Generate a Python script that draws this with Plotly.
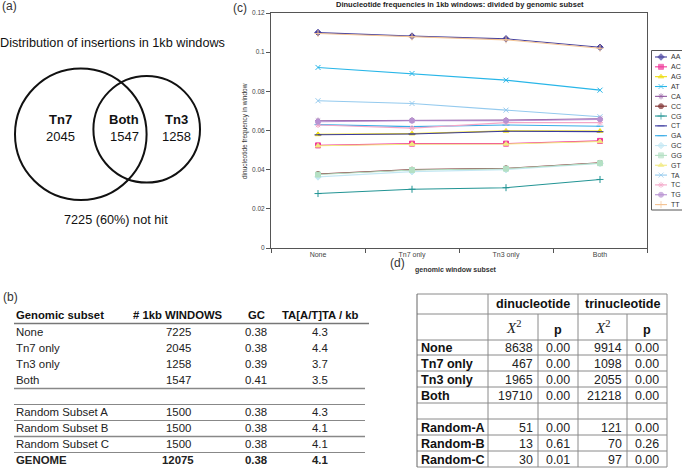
import plotly.graph_objects as go

W, H = 682, 468

# ---------------- data ----------------
subsets = ["None", "Tn7 only", "Tn3 only", "Both"]
dinucs = ["AA", "AC", "AG", "AT", "CA", "CC", "CG", "CT",
          "GA", "GC", "GG", "GT", "TA", "TC", "TG", "TT"]

AA = [0.1100, 0.1082, 0.1068, 0.1025]
AC = [0.0524, 0.0533, 0.0533, 0.0547]
AG = [0.0580, 0.0584, 0.0598, 0.0597]
AT = [0.0922, 0.0891, 0.0857, 0.0806]
CA = [0.0650, 0.0653, 0.0653, 0.0660]
CC = [0.0378, 0.0400, 0.0407, 0.0435]
CG = [0.0278, 0.0300, 0.0308, 0.0350]
CT = [0.0578, 0.0582, 0.0596, 0.0594]
GA = [0.0630, 0.0620, 0.0628, 0.0622]
GC = [0.0363, 0.0390, 0.0400, 0.0432]
GG = [0.0375, 0.0398, 0.0405, 0.0433]
GT = [0.0522, 0.0530, 0.0531, 0.0544]
TA = [0.0752, 0.0738, 0.0704, 0.0670]
TC = [0.0628, 0.0612, 0.0640, 0.0640]
TG = [0.0645, 0.0650, 0.0650, 0.0657]
TT = [0.1095, 0.1078, 0.1063, 0.1020]
freqs = dict(AA=AA, AC=AC, AG=AG, AT=AT, CA=CA, CC=CC, CG=CG, CT=CT,
             GA=GA, GC=GC, GG=GG, GT=GT, TA=TA, TC=TC, TG=TG, TT=TT)

venn_labels = ["Tn7", "Both", "Tn3"]
venn_counts = ["2045", "1547", "1258"]
venn_title = "Distribution of insertions in 1kb windows"
venn_note = "7225 (60%) not hit"

b_header = ["Genomic subset", "# 1kb WINDOWS", "GC", "TA[A/T]TA / kb"]
b_subset = ["None", "Tn7 only", "Tn3 only", "Both", "",
            "Random Subset A", "Random Subset B", "Random Subset C", "GENOME"]
b_windows = ["7225", "2045", "1258", "1547", "", "1500", "1500", "1500", "12075"]
b_gc = ["0.38", "0.38", "0.39", "0.41", "", "0.38", "0.38", "0.38", "0.38"]
b_ta = ["4.3", "4.4", "3.7", "3.5", "", "4.3", "4.1", "4.1", "4.1"]

d_groups = ["dinucleotide", "trinucleotide"]
d_rows = ["None", "Tn7 only", "Tn3 only", "Both", "",
          "Random-A", "Random-B", "Random-C"]
d_di_chi = ["8638", "467", "1965", "19710", "", "51", "13", "30"]
d_di_p = ["0.00", "0.00", "0.00", "0.00", "", "0.00", "0.61", "0.01"]
d_tri_chi = ["9914", "1098", "2055", "21218", "", "121", "70", "97"]
d_tri_p = ["0.00", "0.00", "0.00", "0.00", "", "0.00", "0.26", "0.00"]

# ---------------- styles ----------------
colors = dict(AA="#45409E", AC="#F0389A", AG="#EEDD10", AT="#28B6E8",
              CA="#9058A0", CC="#803030", CG="#229494", CT="#3A3AA0",
              GA="#38ACE8", GC="#C4E8F4", GG="#B4E0C4", GT="#F2EA80",
              TA="#94CAEE", TC="#F4A6C8", TG="#B892D2", TT="#F4C494")
symbols = dict(AA="diamond", AC="square", AG="triangle-up", AT="x-thin",
               CA="asterisk", CC="circle", CG="cross-thin", CT="line-ew",
               GA="line-ew", GC="diamond", GG="square", GT="triangle-up",
               TA="x-thin", TC="asterisk", TG="circle", TT="cross-thin")

SANS = "Liberation Sans, Arial, sans-serif"
TXT = "#111111"


def px(x):
    return x / W


def py(y):
    return 1 - y / H


fig = go.Figure()
annotations = []
shapes = []


def text(x, y, s, size=12, bold=False, anchor="center", color=TXT, family=SANS, **kw):
    annotations.append(dict(
        x=px(x), y=py(y), xref="paper", yref="paper", showarrow=False,
        text=f"<b>{s}</b>" if bold else s, xanchor=anchor, yanchor="middle",
        font=dict(size=size, color=color, family=family), borderpad=0, **kw))


def hline(x0, x1, y, color="#808080", width=1):
    shapes.append(dict(type="line", xref="paper", yref="paper",
                       x0=px(x0), x1=px(x1), y0=py(y), y1=py(y),
                       line=dict(color=color, width=width)))


def vline(x, y0, y1, color="#808080", width=1):
    shapes.append(dict(type="line", xref="paper", yref="paper",
                       x0=px(x), x1=px(x), y0=py(y0), y1=py(y1),
                       line=dict(color=color, width=width)))


# ---------------- (c) line chart ----------------
for d in dinucs:
    fig.add_trace(go.Scatter(
        x=subsets, y=freqs[d], mode="lines+markers", name=d,
        line=dict(color=colors[d], width=1.1),
        marker=dict(symbol=symbols[d], size=5, color=colors[d],
                    line=dict(color=colors[d], width=1)),
        showlegend=False, xaxis="x", yaxis="y"))

# custom compact legend (x3/y3)
for i, d in enumerate(dinucs):
    fig.add_trace(go.Scatter(
        x=[655, 661, 667], y=[i, i, i], mode="lines+markers",
        line=dict(color=colors[d], width=1.1),
        marker=dict(symbol=symbols[d], size=[0, 5, 0], color=colors[d],
                    line=dict(color=colors[d], width=1)),
        showlegend=False, hoverinfo="skip", xaxis="x3", yaxis="y3"))
    annotations.append(dict(x=669, y=i, xref="x3", yref="y3", showarrow=False,
                            text=d, xanchor="left", yanchor="middle",
                            font=dict(size=7, color="#333", family=SANS)))

shapes.append(dict(type="rect", xref="paper", yref="paper",
                   x0=px(651.5), x1=px(700), y0=py(50.5), y1=py(210),
                   line=dict(color="#555", width=1), fillcolor="rgba(0,0,0,0)"))

AX = "#555555"
fig.update_layout(
    xaxis=dict(domain=[px(271), px(647)], type="category",
               range=[-0.5, 3.5], showline=True, mirror=True, linecolor=AX,
               linewidth=1, ticks="outside", tickson="boundaries", ticklen=4,
               tickcolor=AX, showgrid=False, zeroline=False,
               tickfont=dict(size=7, color="#444", family=SANS)),
    yaxis=dict(domain=[py(248), py(13)], range=[0, 0.12],
               tickvals=[0, 0.02, 0.04, 0.06, 0.08, 0.1, 0.12],
               ticktext=["0", "0.02", "0.04", "0.06", "0.08", "0.1", "0.12"],
               showline=True, mirror=True, linecolor=AX, linewidth=1,
               ticks="outside", ticklen=4, tickcolor=AX, showgrid=False,
               zeroline=False, tickfont=dict(size=6.5, color="#444", family=SANS)),
    xaxis3=dict(domain=[px(651), 1], range=[651, 682], visible=False, fixedrange=True),
    yaxis3=dict(domain=[py(210), py(50)], range=[15.55, -0.71], visible=False, fixedrange=True),
)

text(460, 5, "Dinucleotide frequencies in 1kb windows: divided by genomic subset",
     size=7.5, bold=True, color="#222")
text(456, 270, "genomic window subset", size=7, bold=True, color="#333")
annotations.append(dict(x=px(245), y=py(131), xref="paper", yref="paper", showarrow=False,
                        text="dinucleotide frequency in window", textangle=-90,
                        xanchor="center", yanchor="middle",
                        font=dict(size=6.5, color="#333", family=SANS)))

# panel letters
text(9, 6, "(a)", size=12, color="#333")
text(240, 8, "(c)", size=12, color="#333")
text(10, 297, "(b)", size=12, color="#333")
text(397, 263, "(d)", size=12, color="#333")

# ---------------- (a) Venn ----------------
for cx, cy, r in [(80.8, 134.2, 65.8), (146.7, 129.3, 53.3)]:
    shapes.append(dict(type="circle", xref="paper", yref="paper",
                       x0=px(cx - r), x1=px(cx + r), y0=py(cy + r), y1=py(cy - r),
                       line=dict(color="#111", width=2), fillcolor="rgba(0,0,0,0)"))
text(112, 43, venn_title, size=12.7)
for xc, lab, cnt in zip([60, 124, 176], venn_labels, venn_counts):
    text(xc, 120, lab, size=13, bold=True)
    text(xc, 136, cnt, size=13)
text(116, 220, venn_note, size=12.7)

# ---------------- (b) table ----------------
b_cols = [(15, "left"), (178, "center"), (256, "center"), (320, "center")]
for (xc, anc), h in zip(b_cols, b_header):
    text(xc, 315, h, size=11.3, bold=True, anchor=anc)
hline(14, 369, 323.5, color="#777", width=1.3)
for i in range(len(b_subset)):
    yc = 332 + 16 * i
    bold = b_subset[i] == "GENOME"
    for (xc, anc), col in zip(b_cols, [b_subset, b_windows, b_gc, b_ta]):
        if col[i]:
            text(xc, yc, col[i], size=11.4, bold=bold, anchor=anc, color="#222")
    if 3 <= i <= 7:
        hline(14, 365, yc + 8.5, color="#888", width=1.6 if i in (3, 6) else 1.1)

# ---------------- (d) table ----------------
cols_x = [417, 488, 538, 578, 627, 667]
row_y = [294, 314, 340, 355, 371, 387, 403, 419, 435, 451, 467]
GRID = "#8a8a8a"
for y in row_y:
    hline(cols_x[0], cols_x[-1], y, color=GRID, width=1)
vline(cols_x[0], row_y[0], row_y[-1], color="#666")
vline(cols_x[-1], row_y[0], row_y[-1], color=GRID)
vline(cols_x[1], row_y[0], row_y[-1], color=GRID)
vline(cols_x[3], row_y[0], row_y[-1], color=GRID)
vline(cols_x[2], row_y[1], row_y[-1], color=GRID)
vline(cols_x[4], row_y[1], row_y[-1], color=GRID)

for g, (a, b) in zip(d_groups, [(cols_x[1], cols_x[3]), (cols_x[3], cols_x[5])]):
    text((a + b) / 2, 304, g, size=12.6, bold=True)
for j in range(4):
    xc = (cols_x[j + 1] + cols_x[j + 2]) / 2
    if j % 2 == 0:
        text(xc, 327, "<i>X</i><sup>2</sup>", size=15, color="#222",
             family="Liberation Serif, Times New Roman, serif")
    else:
        text(xc, 330, "p", size=12.6, bold=True)

for i, lab in enumerate(d_rows):
    yc = (row_y[i + 2] + row_y[i + 3]) / 2 + 0.5
    if lab:
        text(420, yc, lab, size=12.6, bold=True, anchor="left")
    vals = [d_di_chi[i], d_di_p[i], d_tri_chi[i], d_tri_p[i]]
    for j, v in enumerate(vals):
        if not v:
            continue
        if j % 2 == 0:
            text(cols_x[j + 2] - 4, yc, v, size=12.4, anchor="right", color="#222")
        else:
            text((cols_x[j + 1] + cols_x[j + 2]) / 2, yc, v, size=12.4, color="#222")

fig.update_layout(
    width=W, height=H, autosize=False,
    margin=dict(l=0, r=0, t=0, b=0, autoexpand=False),
    paper_bgcolor="white", plot_bgcolor="white",
    showlegend=False, annotations=annotations, shapes=shapes,
    font=dict(family=SANS), hovermode=False,
)

fig.write_html("out.html",
               config={"displayModeBar": False, "staticPlot": True},
               post_script="document.body.style.margin='0';"
                           "document.body.style.overflow='hidden';")
